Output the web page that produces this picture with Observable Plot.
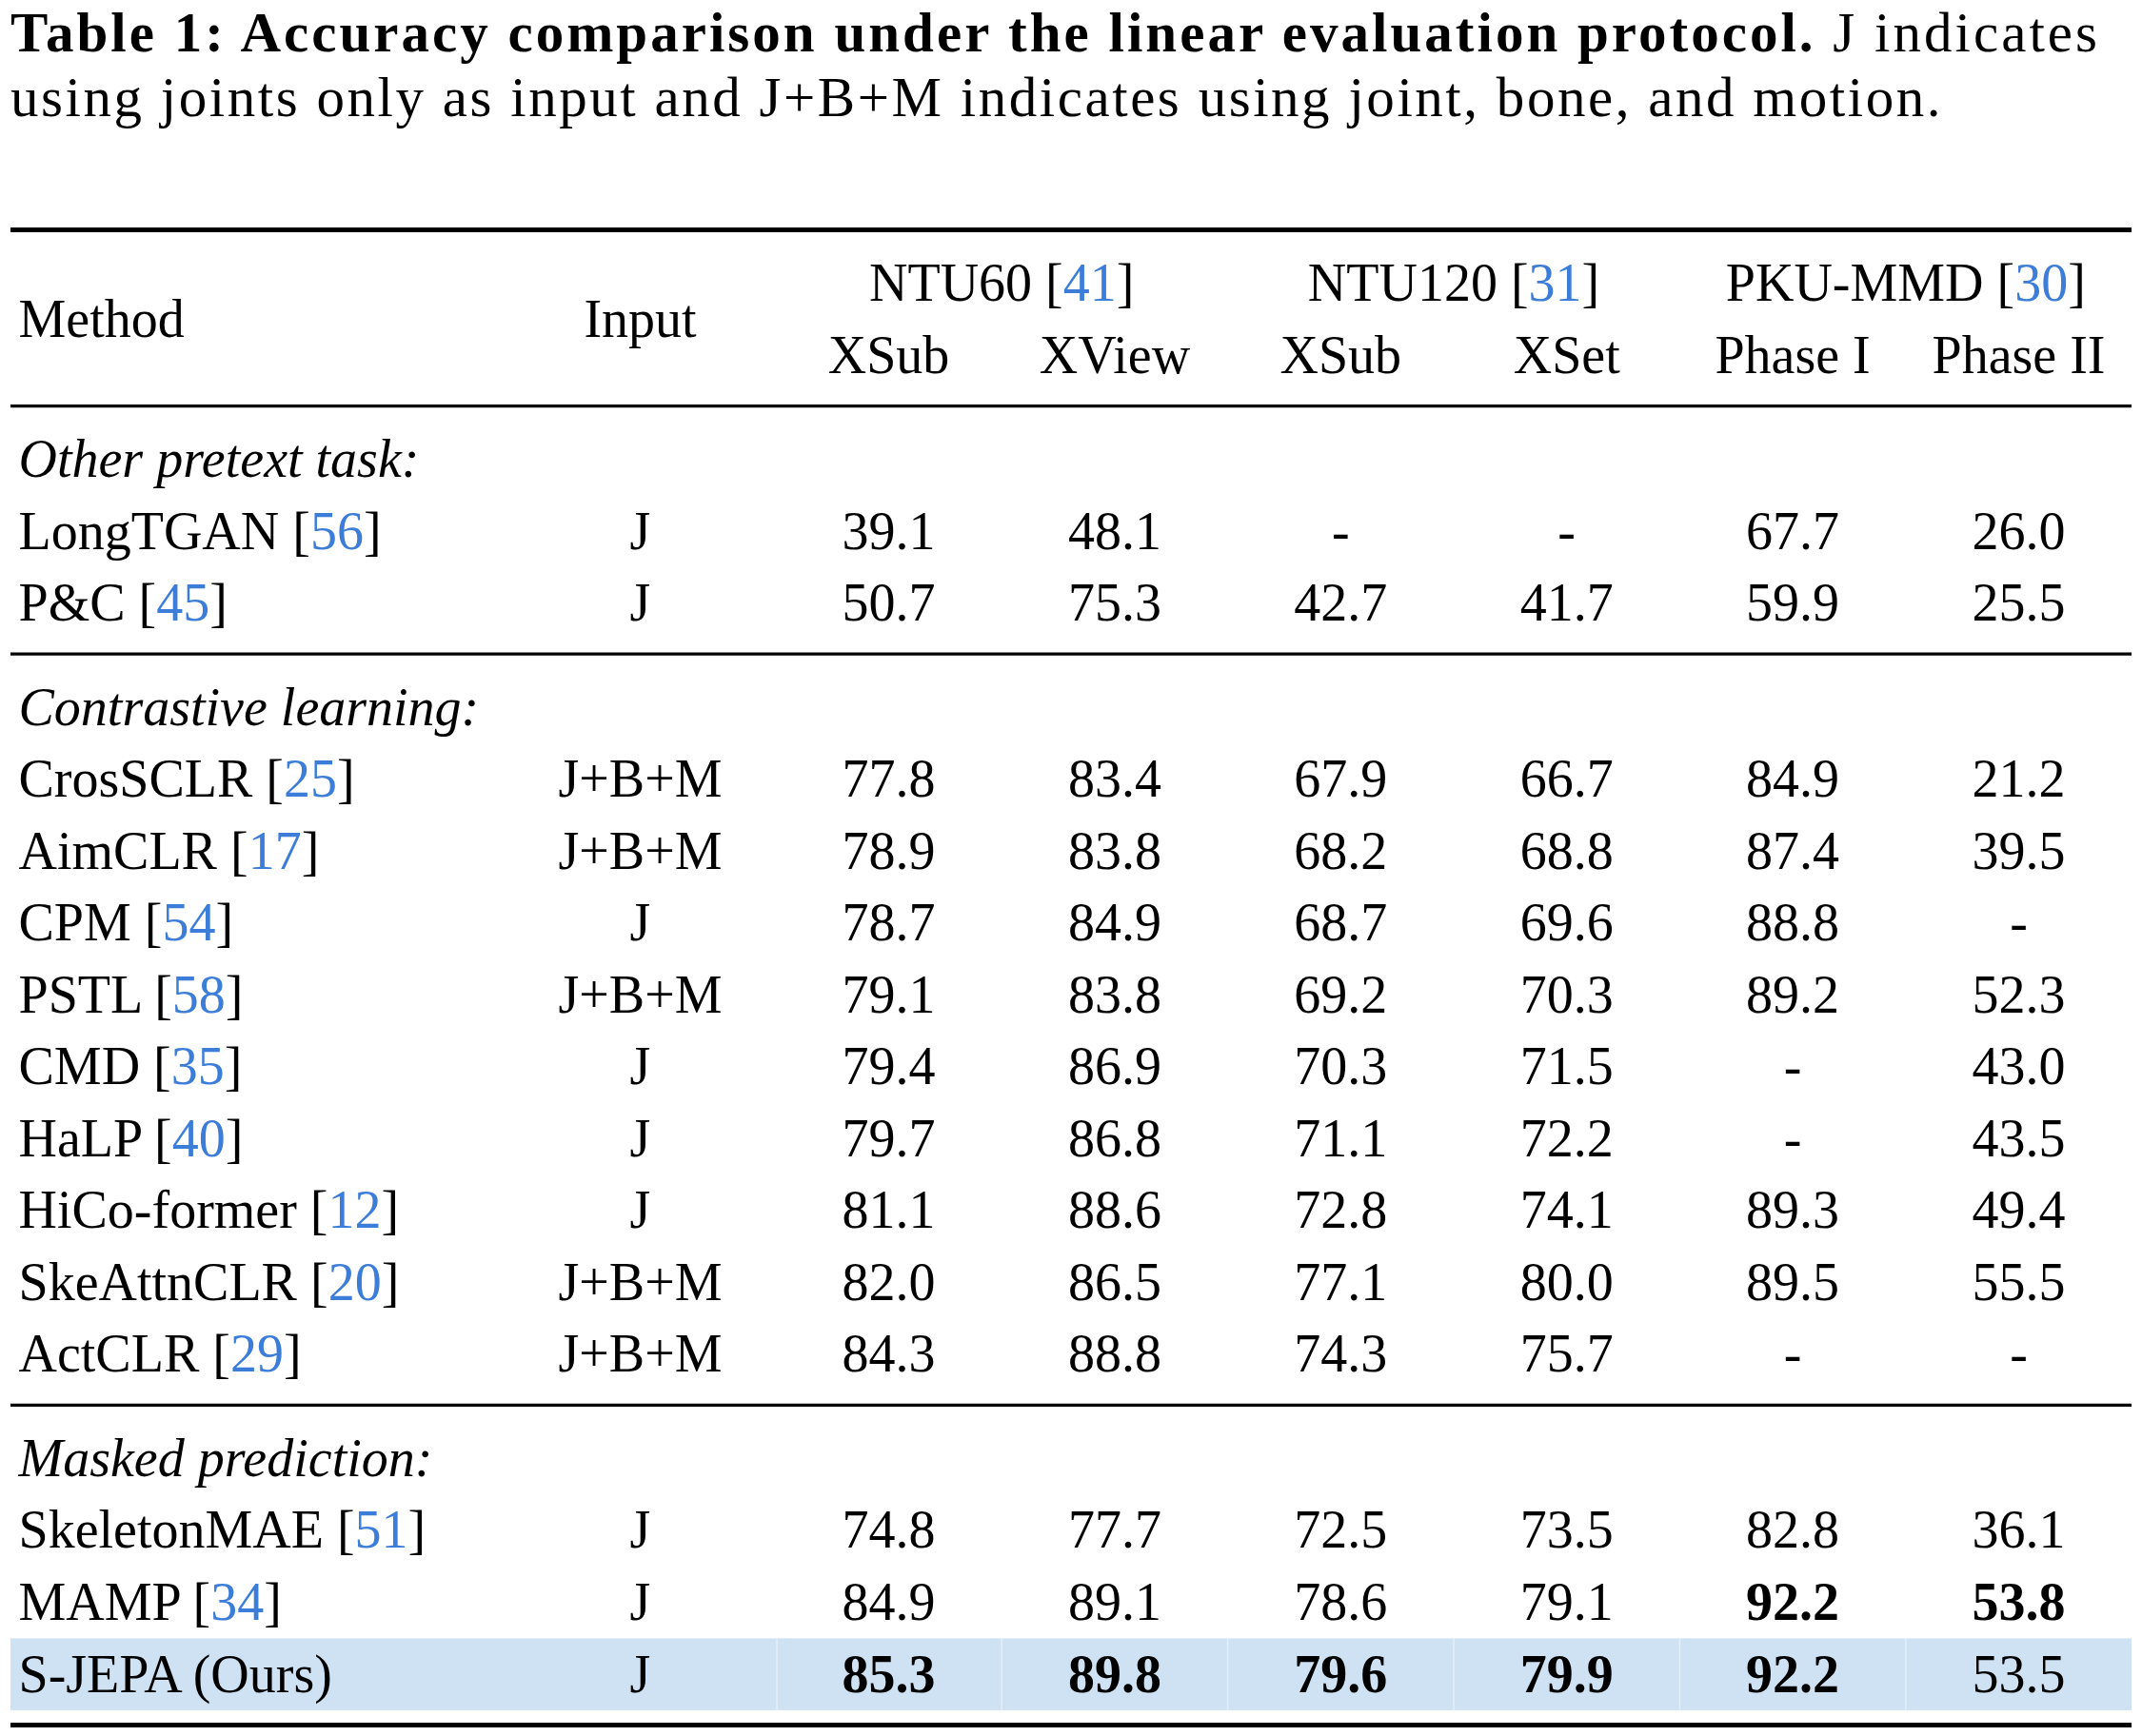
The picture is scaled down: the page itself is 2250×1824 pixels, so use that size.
<!DOCTYPE html>
<html>
<head>
<meta charset="utf-8">
<script src="https://cdn.jsdelivr.net/npm/d3@7"></script>
<script src="https://cdn.jsdelivr.net/npm/@observablehq/plot@0.6"></script>
<style>
  html, body { margin: 0; padding: 0; background: #fff; }
  #caption {
    font-family: "Liberation Serif", serif;
    font-size: 59px;
    line-height: 68px;
    color: #000;
    box-sizing: border-box;
    width: 2250px;
    padding-left: 11px;
    height: 200px;
  }
  #caption .line { display: block; white-space: nowrap; }
  #caption .line span.inner { display: inline-block; white-space: nowrap; }
  #chart svg { display: block; }
</style>
</head>
<body>
<div id="caption">
  <div class="line"><span class="inner" data-target="2195"><b>Table 1: Accuracy comparison under the linear evaluation protocol.</b> J indicates</span></div>
  <div class="line"><span class="inner" data-target="2030">using joints only as input and J+B+M indicates using joint, bone, and motion.</span></div>
</div>
<div id="chart"></div>
<script>
// ---------------- data ----------------
const datasets = ["NTU60", "NTU120", "PKU-MMD"];
const datasetCites = [41, 31, 30];
const splits = ["XSub", "XView", "XSub", "XSet", "Phase I", "Phase II"];

const sections = ["Other pretext task:", "Contrastive learning:", "Masked prediction:"];
const methods = ["LongTGAN", "P&C", "CrosSCLR", "AimCLR", "CPM", "PSTL", "CMD", "HaLP",
  "HiCo-former", "SkeAttnCLR", "ActCLR", "SkeletonMAE", "MAMP", "S-JEPA (Ours)"];
const methodCites = [56, 45, 25, 17, 54, 58, 35, 40, 12, 20, 29, 51, 34, null];
const methodSection = [0, 0, 1, 1, 1, 1, 1, 1, 1, 1, 1, 2, 2, 2];
const inputs = ["J", "J", "J+B+M", "J+B+M", "J", "J+B+M", "J", "J", "J", "J+B+M", "J+B+M", "J", "J", "J"];

const ntu60XSub   = [39.1, 50.7, 77.8, 78.9, 78.7, 79.1, 79.4, 79.7, 81.1, 82.0, 84.3, 74.8, 84.9, 85.3];
const ntu60XView  = [48.1, 75.3, 83.4, 83.8, 84.9, 83.8, 86.9, 86.8, 88.6, 86.5, 88.8, 77.7, 89.1, 89.8];
const ntu120XSub  = [null, 42.7, 67.9, 68.2, 68.7, 69.2, 70.3, 71.1, 72.8, 77.1, 74.3, 72.5, 78.6, 79.6];
const ntu120XSet  = [null, 41.7, 66.7, 68.8, 69.6, 70.3, 71.5, 72.2, 74.1, 80.0, 75.7, 73.5, 79.1, 79.9];
const pkuPhase1   = [67.7, 59.9, 84.9, 87.4, 88.8, 89.2, null, null, 89.3, 89.5, null, 82.8, 92.2, 92.2];
const pkuPhase2   = [26.0, 25.5, 21.2, 39.5, null, 52.3, 43.0, 43.5, 49.4, 55.5, null, 36.1, 53.8, 53.5];
const valueColumns = [ntu60XSub, ntu60XView, ntu120XSub, ntu120XSet, pkuPhase1, pkuPhase2];

// best results shown in bold: [method, split index]
const boldCells = [["MAMP", 4], ["MAMP", 5],
  ["S-JEPA (Ours)", 0], ["S-JEPA (Ours)", 1], ["S-JEPA (Ours)", 2], ["S-JEPA (Ours)", 3], ["S-JEPA (Ours)", 4]];
const highlightedMethod = "S-JEPA (Ours)";

// ---------------- caption: spread letters to the typeset line widths ----------------
document.querySelectorAll("#caption span.inner").forEach(el => {
  const target = +el.dataset.target;
  const n = el.textContent.length;
  const w = el.getBoundingClientRect().width;
  el.style.letterSpacing = ((target - w) / n) + "px";
});

// ---------------- table layout (row slots, LaTeX-like) ----------------
let pos = 0, prev = "rule";
const ruleRows = [0];
function step(kind) {
  if (kind === "rule") pos += 0.7; else pos += (prev === "rule" ? 0.75 : 1);
  prev = kind;
  return pos;
}
const groupHeaderRow = step("text");
const splitHeaderRow = step("text");
const titleHeaderRow = (groupHeaderRow + splitHeaderRow) / 2;
ruleRows.push(step("rule"));
const sectionCells = [];
const rowOf = {};
sections.forEach((s, si) => {
  sectionCells.push({label: s, row: step("text")});
  methods.forEach((m, i) => { if (methodSection[i] === si) rowOf[m] = step("text"); });
  ruleRows.push(step("rule"));
});
const lastRow = pos;

const fmt = d3.format(".1f");
const isBold = (m, j) => boldCells.some(([bm, bj]) => bm === m && bj === j);

const nameCells = methods.map((m, i) => ({text: methodCites[i] == null ? m : `${m} [${methodCites[i]}]`, col: 0, row: rowOf[m]}));
const inputCells = methods.map((m, i) => ({text: inputs[i], col: 1, row: rowOf[m]}));
const valueCells = [];
valueColumns.forEach((vals, j) => vals.forEach((v, i) => valueCells.push({
  text: v == null ? "-" : fmt(v), col: 2 + j, row: rowOf[methods[i]], bold: isBold(methods[i], j)
})));
const splitCells = splits.map((s, j) => ({text: s, col: 2 + j}));
const datasetCells = datasets.map((d, k) => ({text: `${d} [${datasetCites[k]}]`, col: 2.5 + 2 * k}));

const hiRow = rowOf[highlightedMethod];
const bandSeparators = [1.55, 2.5, 3.5, 4.5, 5.5, 6.5];

const FONT = "Liberation Serif";
const FS = 56;
const common = {fontFamily: FONT, fontSize: FS, fill: "#000", lineAnchor: "middle"};

const chart = Plot.plot({
  width: 2250,
  height: 1624,
  marginLeft: 11,
  marginRight: 11,
  marginTop: 0,
  marginBottom: 0,
  style: {background: "#fff", fontFamily: FONT},
  x: {type: "linear", domain: [0, 1, 2, 7], range: [19, 672, 933, 2120], axis: null},
  y: {type: "linear", domain: [0, lastRow], range: [41, 1612], axis: null},
  marks: [
    Plot.rect([hiRow], {y1: d => d - 0.5, y2: d => d + 0.5, fill: "#cfe2f3"}),
    Plot.ruleX(bandSeparators, {x: d => d, y1: hiRow - 0.5, y2: hiRow + 0.5, stroke: "#ffffff", strokeOpacity: 0.45, strokeWidth: 1.5}),
    Plot.ruleY(ruleRows, {y: d => d, stroke: "#000",
      strokeWidth: (d, i) => (i === 0 || i === ruleRows.length - 1) ? 5 : 3.3}),
    // header
    Plot.text(["Method"], {...common, x: () => 0, y: () => titleHeaderRow, text: d => d, textAnchor: "start"}),
    Plot.text(["Input"], {...common, x: () => 1, y: () => titleHeaderRow, text: d => d}),
    Plot.text(datasetCells, {...common, x: "col", y: () => groupHeaderRow, text: "text"}),
    Plot.text(splitCells, {...common, x: "col", y: () => splitHeaderRow, text: "text"}),
    // section labels
    Plot.text(sectionCells, {...common, x: () => 0, y: "row", text: "label", textAnchor: "start", fontStyle: "italic"}),
    // body
    Plot.text(nameCells, {...common, x: "col", y: "row", text: "text", textAnchor: "start"}),
    Plot.text(inputCells, {...common, x: "col", y: "row", text: "text"}),
    Plot.text(valueCells.filter(d => !d.bold), {...common, x: "col", y: "row", text: "text"}),
    Plot.text(valueCells.filter(d => d.bold), {...common, x: "col", y: "row", text: "text", fontWeight: "bold"})
  ]
});

// colour the citation numbers like hyperlinks
d3.select(chart).selectAll("text").each(function () {
  const t = d3.select(this);
  if (!t.select("tspan").empty()) return;
  const s = t.text();
  const m = s.match(/^(.*\[)(\d+)(\].*)$/);
  if (!m) return;
  t.text(null);
  t.append("tspan").text(m[1]);
  t.append("tspan").attr("fill", "#3b7dd8").text(m[2]);
  t.append("tspan").text(m[3]);
});

document.getElementById("chart").append(chart);
</script>
</body>
</html>
